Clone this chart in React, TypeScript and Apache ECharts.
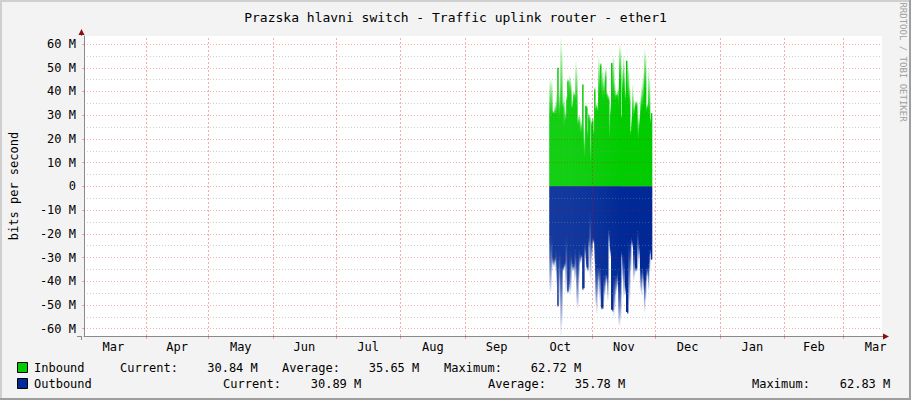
import React, { useEffect, useRef } from 'react';
import * as echarts from 'echarts';

// ---------- data ----------
const TITLE = 'Prazska hlavni switch - Traffic uplink router - ether1';
const Y_NAME = 'bits per second';
const WATERMARK = 'RRDTOOL / TOBI OETIKER';

// month names shown on the time axis (one label per month, centred in the month)
const MONTH_NAMES = ['Mar', 'Apr', 'May', 'Jun', 'Jul', 'Aug', 'Sep', 'Oct', 'Nov', 'Dec', 'Jan', 'Feb', 'Mar'];
// first day of each month, in days since 1 March of the first year (last entry = 1 April next year)
const MONTH_STARTS = [0, 31, 61, 92, 122, 153, 184, 214, 245, 275, 306, 337, 365, 396];
// visible time range (days since 1 March)
const X_MIN = 1.42;
const X_MAX = 383.6;

// y axis (Mbit/s)
const Y_MIN = -63.1;
const Y_MAX = 63.4;
const Y_TICKS = [-60, -50, -40, -30, -20, -10, 0, 10, 20, 30, 40, 50, 60];
const Y_MINOR = [-55, -45, -35, -25, -15, -5, 5, 15, 25, 35, 45, 55];

// samples: first sample day (~11 Oct) and sample spacing (days)
const SAMPLE_START = 224.25;
const SAMPLE_STEP = 0.4771;

// Inbound (Mbit/s): consolidated value and short-lived peak per sample
const IN_AVG = [
  30, 30, 30, 31, 31, 31, 30, 31, 50, 29,
  30, 33, 32, 33, 24, 26, 28, 36, 44, 38,
  40, 38, 33, 34, 38, 37, 35, 34, 26, 27,
  24, 22, 23, 43, 16, 12, 34, 33, 21, 29,
  27, 10, 26, 27, 22, 40, 32, 33, 32, 38,
  40, 51, 39, 36, 38, 37, 45, 38, 37, 36,
  20, 30, 52, 38, 37, 37, 37, 38, 37, 34,
  46, 44, 29, 40, 42, 38, 36, 53, 38, 36,
  35, 22, 24, 30, 28, 31, 34, 34, 22, 20,
  25, 30, 33, 33, 35, 40, 42, 32, 33, 31,
  30, 27, 30.84,
];
const IN_PEAK = [
  45, 45, 44, 32, 31, 34, 36, 40, 50, 38,
  42, 63, 58, 36, 40, 35, 31, 38, 45, 46,
  47, 44, 34, 37, 40, 39, 53, 50, 28, 30,
  30, 27, 28, 43, 26, 20, 34, 34, 24, 31,
  30, 18, 28, 29, 24, 42, 34, 35, 33, 55,
  52, 52, 48, 50, 45, 48, 50, 40, 39, 38,
  30, 35, 52, 54, 55, 44, 40, 39, 41, 44,
  60, 58, 30, 50, 55, 48, 40, 53, 52, 50,
  42, 24, 30, 43, 38, 34, 36, 36, 36, 28,
  30, 38, 42, 45, 48, 58, 56, 34, 35, 50,
  46, 29, 31,
];

// Outbound (Mbit/s, magnitude; drawn below zero)
const OUT_AVG = [
  21, 21, 22, 30, 31, 30, 26, 30, 50, 28,
  27, 30, 31, 34, 33, 32, 21, 22, 44, 40,
  28, 28, 30, 33, 33, 27, 27, 31, 32, 28,
  27, 29, 29, 43, 43, 24, 25, 33, 34, 22,
  11, 12, 24, 22, 22, 23, 33, 33, 34, 34,
  33, 34, 51, 51, 38, 38, 36, 37, 37, 18,
  19, 26, 52, 52, 38, 38, 37, 37, 36, 40,
  40, 38, 28, 29, 30, 31, 42, 53, 53, 24,
  25, 23, 22, 23, 27, 27, 34, 34, 19, 20,
  25, 34, 35, 34, 36, 40, 38, 34, 34, 33,
  27, 27, 30.89,
];
const OUT_PEAK = [
  45, 44, 36, 33, 34, 32, 36, 42, 51, 40,
  50, 62.8, 58, 36, 35, 34, 45, 43, 45, 44,
  46, 44, 34, 36, 35, 40, 38, 50, 52, 40,
  33, 32, 30, 44, 43, 30, 32, 35, 36, 26,
  38, 40, 30, 24, 24, 34, 50, 54, 46, 40,
  48, 52, 52, 52, 49, 46, 42, 40, 48, 24,
  28, 30, 52, 53, 55, 52, 46, 44, 42, 58,
  59, 56, 30, 40, 47, 45, 46, 53, 54, 50,
  48, 36, 25, 26, 40, 38, 36, 36, 30, 33,
  30, 44, 46, 40, 44, 53, 48, 40, 38, 44,
  36, 29, 31,
];

const IN_STATS = ['30.84 M', '35.65 M', '62.72 M'];
const OUT_STATS = ['30.89 M', '35.78 M', '62.83 M'];
const STAT_NAMES = ['Current:', 'Average:', 'Maximum:'];

// ---------- styling ----------
const FONT = 'DejaVu Sans Mono';
const IN_COLOR = '#00cc00';
const OUT_COLOR = '#002a97';
const MAJOR = 'rgba(229,0,0,0.32)';
const MINOR = 'rgba(140,140,140,0.42)';
const AXIS = '#8a8a8a';
const ARROW = '#8a1010';

const monthMids = MONTH_STARTS.slice(0, -1).map((d, i) => (d + MONTH_STARTS[i + 1]) / 2);
const monthLines = MONTH_STARTS.filter((d) => d > X_MIN && d < X_MAX);

function monthName(v: number) {
  let best = 0;
  for (let i = 1; i < monthMids.length; i++) {
    if (Math.abs(monthMids[i] - v) < Math.abs(monthMids[best] - v)) best = i;
  }
  return MONTH_NAMES[best];
}

function makeRender(color: string, fade: string, down: boolean) {
  return (_params: any, api: any) => {
    const t = api.value(0) as number;
    const s = api.value(1) as number;
    const p = api.value(2) as number;
    const a = api.coord([t, 0]);
    const b = api.coord([t + SAMPLE_STEP, 0]);
    const ys = api.coord([t, s])[1];
    const yp = api.coord([t, p])[1];
    const left = a[0];
    const w = b[0] - a[0] + 0.45;
    const zero = a[1];
    const children: any[] = [
      {
        type: 'rect',
        shape: { x: left, y: Math.min(zero, ys), width: w, height: Math.abs(zero - ys) },
        style: { fill: color },
      },
    ];
    if (Math.abs(yp - ys) > 0.5) {
      const grad = down
        ? new echarts.graphic.LinearGradient(0, 0, 0, 1, [
            { offset: 0, color },
            { offset: 1, color: fade },
          ])
        : new echarts.graphic.LinearGradient(0, 0, 0, 1, [
            { offset: 0, color: fade },
            { offset: 1, color },
          ]);
      children.push({
        type: 'rect',
        shape: { x: left, y: Math.min(ys, yp), width: w, height: Math.abs(yp - ys) },
        style: { fill: grad },
      });
    }
    return { type: 'group', children };
  };
}

function txt(text: string, x: number, y: number, align: string, extra: any = {}) {
  return {
    type: 'text',
    x,
    y,
    silent: true,
    style: {
      text,
      fontFamily: FONT,
      fontSize: 12,
      fill: '#000',
      align,
      verticalAlign: 'middle',
      ...extra,
    },
  };
}

function buildOption(): any {
  const inData = IN_AVG.map((v, i) => [SAMPLE_START + i * SAMPLE_STEP, v, IN_PEAK[i]]);
  const outData = OUT_AVG.map((v, i) => [SAMPLE_START + i * SAMPLE_STEP, -v, -OUT_PEAK[i]]);

  const gridLines = [
    ...Y_MINOR.map((v) => ({ yAxis: v, lineStyle: { color: MINOR, type: [1, 2], width: 1 } })),
    ...Y_TICKS.map((v) => ({ yAxis: v, lineStyle: { color: MAJOR, type: [1, 2], width: 1 } })),
    ...monthLines.map((d) => ({ xAxis: d, lineStyle: { color: MAJOR, type: [2, 2], width: 1 } })),
  ];

  const legendRows = [
    { y: 368, color: IN_COLOR, name: 'Inbound', stats: IN_STATS, labelX: [149, 311, 473], valX: [232.5, 394, 556] },
    { y: 384, color: OUT_COLOR, name: 'Outbound', stats: OUT_STATS, labelX: [252, 517, 781], valX: [336, 600, 865] },
  ];
  const legendEls: any[] = [];
  legendRows.forEach((r) => {
    legendEls.push({
      type: 'rect',
      silent: true,
      shape: { x: 17.5, y: r.y - 5.5, width: 10, height: 10 },
      style: { fill: r.color, stroke: '#000', lineWidth: 1 },
    });
    legendEls.push(txt(r.name, 34, r.y, 'left'));
    STAT_NAMES.forEach((n, i) => {
      legendEls.push(txt(n, r.labelX[i], r.y, 'center'));
      legendEls.push(txt(r.stats[i], r.valX[i], r.y, 'center'));
    });
  });

  return {
    animation: false,
    backgroundColor: '#f3f3f3',
    title: {
      text: TITLE,
      left: 'center',
      top: 6,
      textStyle: { fontFamily: FONT, fontSize: 13, fontWeight: 'normal', color: '#000' },
    },
    grid: {
      left: 81,
      right: 29,
      top: 36,
      bottom: 64,
      show: true,
      backgroundColor: '#ffffff',
      borderWidth: 0,
    },
    xAxis: {
      type: 'value',
      min: X_MIN,
      max: X_MAX,
      axisLine: { show: true, onZero: false, lineStyle: { color: AXIS } },
      axisTick: {
        show: true,
        customValues: monthLines,
        length: 3,
        lineStyle: { color: MAJOR },
      },
      axisLabel: {
        customValues: monthMids,
        formatter: (v: number) => monthName(v),
        fontFamily: FONT,
        fontSize: 12,
        color: '#000',
        margin: 5,
      },
      splitLine: { show: false },
    },
    yAxis: {
      type: 'value',
      min: Y_MIN,
      max: Y_MAX,
      name: Y_NAME,
      nameLocation: 'middle',
      nameGap: 64,
      nameRotate: 90,
      nameTextStyle: { fontFamily: FONT, fontSize: 12, color: '#000' },
      axisLine: { show: true, onZero: false, lineStyle: { color: AXIS } },
      axisTick: { show: true, customValues: Y_TICKS, length: 2, lineStyle: { color: MAJOR } },
      axisLabel: {
        customValues: Y_TICKS,
        formatter: (v: number) => (v === 0 ? '0' : `${v} M`),
        fontFamily: FONT,
        fontSize: 12,
        color: '#000',
        margin: 8,
      },
      splitLine: { show: false },
    },
    series: [
      {
        name: 'Inbound',
        type: 'custom',
        z: 2,
        clip: true,
        silent: true,
        renderItem: makeRender(IN_COLOR, 'rgba(0,204,0,0.04)', false),
        encode: { x: 0, y: [1, 2] },
        data: inData,
      },
      {
        name: 'Outbound',
        type: 'custom',
        z: 2,
        clip: true,
        silent: true,
        renderItem: makeRender(OUT_COLOR, 'rgba(0,42,151,0.04)', true),
        encode: { x: 0, y: [1, 2] },
        data: outData,
      },
      {
        name: 'grid',
        type: 'line',
        z: 3,
        silent: true,
        showSymbol: false,
        lineStyle: { opacity: 0 },
        data: inData.map((d) => [d[0], d[1]]),
        markLine: {
          silent: true,
          symbol: ['none', 'none'],
          label: { show: false },
          emphasis: { disabled: true },
          data: gridLines,
        },
      },
    ],
    graphic: [
      // 3D-style image border
      { type: 'rect', silent: true, shape: { x: 0, y: 0, width: 911, height: 2 }, style: { fill: '#cfcfcf' } },
      { type: 'rect', silent: true, shape: { x: 0, y: 0, width: 2, height: 400 }, style: { fill: '#cfcfcf' } },
      { type: 'rect', silent: true, shape: { x: 909, y: 0, width: 2, height: 400 }, style: { fill: '#9e9e9e' } },
      { type: 'rect', silent: true, shape: { x: 0, y: 398, width: 911, height: 2 }, style: { fill: '#9e9e9e' } },
      // axis extensions and arrows
      { type: 'line', silent: true, shape: { x1: 77, y1: 336.5, x2: 81, y2: 336.5 }, style: { stroke: AXIS, lineWidth: 1 } },
      { type: 'line', silent: true, shape: { x1: 81.5, y1: 336, x2: 81.5, y2: 340 }, style: { stroke: AXIS, lineWidth: 1 } },
      { type: 'line', silent: true, shape: { x1: 881, y1: 336.5, x2: 884, y2: 336.5 }, style: { stroke: AXIS, lineWidth: 1 } },
      { type: 'line', silent: true, shape: { x1: 81.5, y1: 33, x2: 81.5, y2: 36 }, style: { stroke: AXIS, lineWidth: 1 } },
      { type: 'polygon', silent: true, shape: { points: [[78.5, 35], [81.5, 29], [84.5, 35]] }, style: { fill: ARROW } },
      { type: 'polygon', silent: true, shape: { points: [[883, 333.5], [889, 336.5], [883, 339.5]] }, style: { fill: ARROW } },
      // watermark
      {
        type: 'text',
        x: 903,
        y: 62,
        rotation: -Math.PI / 2,
        silent: true,
        style: {
          text: WATERMARK,
          fontFamily: FONT,
          fontSize: 9,
          fill: '#a0a0a0',
          align: 'center',
          verticalAlign: 'middle',
        },
      },
      ...legendEls,
    ],
  };
}

export default function App() {
  const ref = useRef<HTMLDivElement>(null);
  useEffect(() => {
    document.body.style.margin = '0';
    const chart = echarts.init(ref.current as HTMLDivElement, null, { renderer: 'svg' });
    chart.setOption(buildOption());
    return () => chart.dispose();
  }, []);
  return <div ref={ref} style={{ width: 911, height: 400 }} />;
}
